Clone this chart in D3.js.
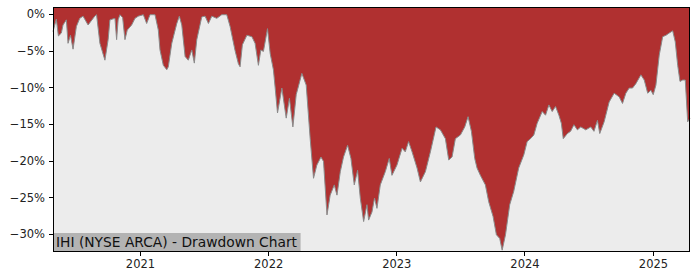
<!DOCTYPE html>
<html lang='en'>
<head>
<meta charset="utf-8">
<style>
body { margin: 0; background: #fff; }
svg { display: block; font-family: "DejaVu Sans", sans-serif; }
.axis path, .axis line { stroke: #000; shape-rendering: crispEdges; }
</style>
</head>
<body>
<svg width="700" height="280"></svg>
<script src="https://cdn.jsdelivr.net/npm/d3@7"></script>
<script>
// drawdown readings: decimal year / drawdown in %
var years = [
  2020.323, 2020.349, 2020.365, 2020.388, 2020.401, 2020.427, 2020.440, 2020.459, 2020.479, 2020.505,
  2020.531, 2020.557, 2020.596, 2020.648, 2020.662, 2020.688, 2020.727, 2020.752, 2020.766, 2020.805,
  2020.818, 2020.830, 2020.844, 2020.865, 2020.883, 2020.901, 2020.935, 2020.961, 2020.987, 2021.026,
  2021.052, 2021.078, 2021.117, 2021.143, 2021.156, 2021.182, 2021.209, 2021.221, 2021.248, 2021.287,
  2021.307, 2021.326, 2021.352, 2021.377, 2021.404, 2021.424, 2021.443, 2021.482, 2021.508, 2021.534,
  2021.560, 2021.599, 2021.638, 2021.677, 2021.703, 2021.742, 2021.768, 2021.781, 2021.799, 2021.834,
  2021.873, 2021.898, 2021.924, 2021.943, 2021.963, 2021.995, 2022.016, 2022.041, 2022.055, 2022.073,
  2022.107, 2022.141, 2022.166, 2022.193, 2022.219, 2022.263, 2022.297, 2022.328, 2022.354, 2022.380,
  2022.412, 2022.432, 2022.459, 2022.484, 2022.516, 2022.537, 2022.563, 2022.588, 2022.620, 2022.646,
  2022.672, 2022.698, 2022.719, 2022.745, 2022.771, 2022.784, 2022.810, 2022.830, 2022.849, 2022.875,
  2022.914, 2022.945, 2022.966, 2023.005, 2023.045, 2023.070, 2023.096, 2023.123, 2023.162, 2023.188,
  2023.227, 2023.266, 2023.310, 2023.344, 2023.383, 2023.409, 2023.435, 2023.461, 2023.500, 2023.534,
  2023.560, 2023.586, 2023.612, 2023.630, 2023.656, 2023.695, 2023.721, 2023.755, 2023.781, 2023.807,
  2023.826, 2023.852, 2023.885, 2023.916, 2023.955, 2023.995, 2024.021, 2024.047, 2024.073, 2024.099,
  2024.138, 2024.164, 2024.190, 2024.216, 2024.242, 2024.268, 2024.287, 2024.302, 2024.334, 2024.359,
  2024.385, 2024.412, 2024.438, 2024.477, 2024.516, 2024.541, 2024.568, 2024.586, 2024.620, 2024.659,
  2024.698, 2024.737, 2024.763, 2024.789, 2024.815, 2024.841, 2024.867, 2024.906, 2024.932, 2024.959,
  2024.984, 2025.002, 2025.023, 2025.049, 2025.076, 2025.102, 2025.127, 2025.154, 2025.174, 2025.193,
  2025.211, 2025.232, 2025.252, 2025.271, 2025.289
];
var drawdown = [
  -2.4, -0.7, -3.0, -2.6, -1.5, -0.8, -4.0, -2.9, -4.8, -1.7,
  -0.6, -0.3, -1.5, -0.3, -0.1, -4.0, -6.3, -3.5, -0.8, -0.6,
  -3.5, -0.8, -0.1, -0.5, -3.5, -2.2, -1.5, -0.6, -0.3, -0.1,
  -1.3, -0.1, -0.1, -2.2, -4.9, -7.0, -7.6, -7.2, -4.0, -1.3,
  -0.3, -1.5, -5.8, -6.3, -4.9, -6.7, -3.5, -0.4, -0.3, -1.3,
  -0.3, -0.6, -0.1, -0.1, -1.7, -5.0, -6.8, -7.2, -4.2, -2.9,
  -3.1, -4.0, -7.0, -4.9, -5.1, -2.0, -5.4, -7.6, -10.1, -13.5,
  -10.1, -14.2, -11.5, -15.4, -11.0, -8.1, -9.7, -17.0, -22.4, -20.6,
  -19.5, -20.1, -27.4, -24.7, -23.3, -24.7, -21.5, -19.5, -17.9, -19.7,
  -23.3, -21.3, -25.1, -28.3, -26.0, -28.1, -27.0, -25.1, -26.5, -23.3,
  -21.5, -19.7, -22.0, -20.6, -18.3, -18.8, -17.4, -18.8, -21.0, -22.9,
  -21.5, -18.8, -15.4, -15.8, -17.0, -19.9, -19.5, -17.0, -16.5, -15.4,
  -14.0, -16.0, -19.7, -21.0, -22.0, -23.3, -25.6, -27.6, -30.1, -30.6,
  -32.2, -30.1, -26.0, -24.2, -21.0, -19.2, -17.4, -17.0, -16.5, -14.9,
  -13.3, -13.8, -12.4, -13.3, -12.6, -13.8, -14.9, -17.0, -16.3, -16.0,
  -15.1, -15.8, -15.4, -15.8, -15.4, -16.0, -14.5, -16.3, -14.7, -12.0,
  -10.8, -11.3, -12.2, -10.8, -10.1, -10.1, -9.5, -8.3, -9.0, -10.8,
  -10.4, -11.0, -9.7, -5.6, -3.1, -2.9, -2.6, -2.3, -3.8, -7.0,
  -9.2, -9.0, -9.0, -14.7, -14.2
];
var yTicks = [0, -5, -10, -15, -20, -25, -30];
var title = "IHI (NYSE ARCA) - Drawdown Chart";

function toDate(t) {
  var yr = Math.floor(t),
      s = Date.UTC(yr, 0, 1),
      e = Date.UTC(yr + 1, 0, 1);
  return new Date(s + (t - yr) * (e - s));
}

var data = years.map(function(t, i) { return { date: toDate(t), v: drawdown[i] }; });

var svg = d3.select("svg"),
    mLeft = 53, mRight = 690, mTop = 7, mBottom = 252;

var x = d3.scaleUtc()
    .domain(d3.extent(data, function(d) { return d.date; }))
    .range([mLeft, mRight]);
var y = d3.scaleLinear().domain([-32.45, 0.95]).range([mBottom, mTop]);

svg.append("rect")
    .attr("x", mLeft).attr("y", mTop)
    .attr("width", mRight - mLeft).attr("height", mBottom - mTop)
    .attr("fill", "#ececec");

var area = d3.area()
    .x(function(d) { return x(d.date); })
    .y0(mTop)
    .y1(function(d) { return y(d.v); });

var line = d3.line()
    .x(function(d) { return x(d.date); })
    .y(function(d) { return y(d.v); });

svg.append("path")
    .datum(data)
    .attr("d", area)
    .attr("fill", "#b03030");

svg.append("path")
    .datum(data)
    .attr("d", line)
    .attr("fill", "none")
    .attr("stroke", "#8a8a8a")
    .attr("stroke-width", 1);

var fmt = function(d) { return (d < 0 ? "\u2212" : "") + Math.abs(d) + "%"; };

function styleAxis(g) {
  g.select(".domain").remove();
  g.attr("font-family", "DejaVu Sans, sans-serif").attr("font-size", 11.5);
  g.selectAll("text").attr("fill", "#222");
}

svg.append("g")
    .attr("class", "axis")
    .attr("transform", "translate(" + mLeft + ",0)")
    .call(d3.axisLeft(y).tickValues(yTicks).tickFormat(fmt).tickSize(4).tickPadding(4))
    .call(styleAxis);

svg.append("g")
    .attr("class", "axis")
    .attr("transform", "translate(0," + mBottom + ")")
    .call(d3.axisBottom(x).ticks(d3.utcYear.every(1)).tickFormat(d3.utcFormat("%Y")).tickSize(4).tickPadding(4))
    .call(styleAxis);

svg.append("rect")
    .attr("x", mLeft + 0.5).attr("y", mTop + 0.5)
    .attr("width", mRight - mLeft - 1).attr("height", mBottom - mTop - 1)
    .attr("fill", "none")
    .attr("stroke", "#000")
    .attr("stroke-width", 1);

var label = svg.append("g");
var lt = label.append("text")
    .attr("x", mLeft + 3)
    .attr("y", mBottom - 5)
    .attr("font-size", 13.8)
    .attr("fill", "#111")
    .text(title);
var bb = lt.node().getBBox();
label.insert("rect", "text")
    .attr("x", mLeft + 1)
    .attr("y", mBottom - 19)
    .attr("width", bb.width + 5)
    .attr("height", 18)
    .attr("fill", "#b3b3b3");
</script>
</body>
</html>
